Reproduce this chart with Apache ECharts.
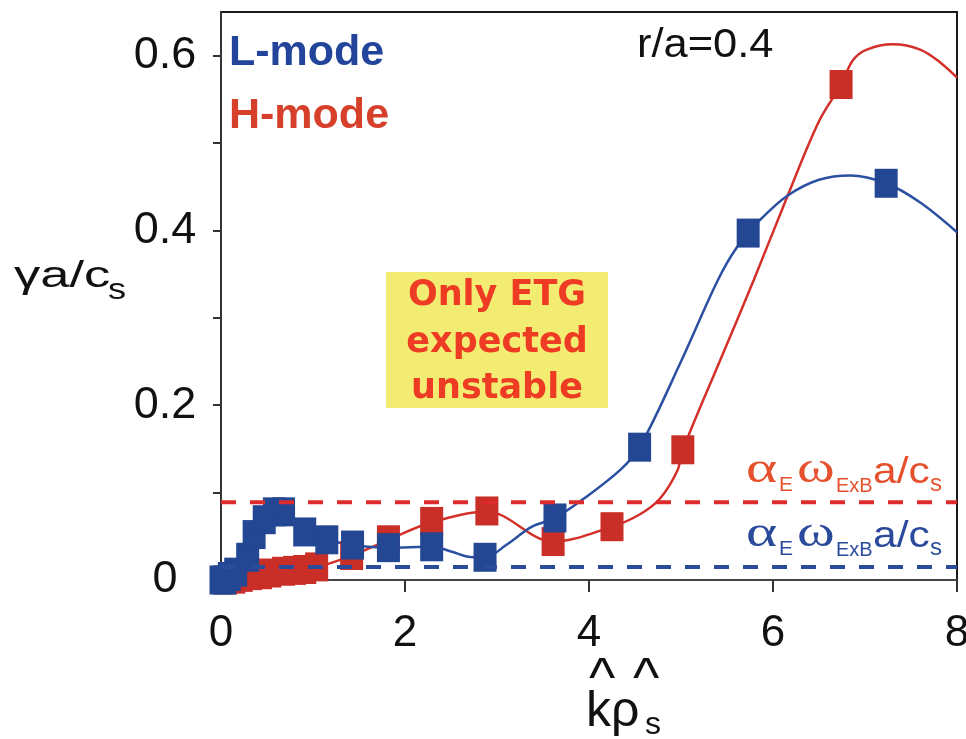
<!DOCTYPE html>
<html>
<head>
<meta charset="utf-8">
<title>Linear growth rate spectrum, r/a = 0.4</title>
<script src="https://cdn.jsdelivr.net/npm/echarts@6/dist/echarts.min.js"></script>
<style>
  html, body { margin: 0; padding: 0; background: #ffffff; }
  #chart { width: 966px; height: 739px; }
</style>
</head>
<body>
<div id="chart"></div>
<script>
// Axis ticks and labels
const kTicks = [0, 2, 4, 6, 8];
const gammaTicks = [0, 0.1, 0.2, 0.3, 0.4, 0.5, 0.6];
const gammaLabels = [0, 0.2, 0.4, 0.6];

// L-mode growth rates (markers)
const lModeK     = [0, 0.04, 0.09, 0.16, 0.29, 0.36, 0.47, 0.58, 0.68, 0.91, 1.15, 1.43, 1.82, 2.29, 2.87, 3.63, 4.55, 5.73, 7.23];
const lModeGamma = [0, 0.0, 0.004, 0.009, 0.026, 0.052, 0.069, 0.078, 0.078, 0.055, 0.046, 0.040, 0.037, 0.038, 0.026, 0.071, 0.152, 0.397, 0.454];

// H-mode growth rates (markers)
const hModeK     = [0.05, 0.14, 0.22, 0.32, 0.43, 0.53, 0.68, 0.8, 0.91, 1.04, 1.42, 1.82, 2.29, 2.89, 3.61, 4.25, 5.02, 6.74];
const hModeGamma = [0, 0.001, 0.003, 0.005, 0.006, 0.008, 0.010, 0.011, 0.012, 0.015, 0.028, 0.046, 0.067, 0.079, 0.044, 0.061, 0.149, 0.567];

// Fitted curves through each spectrum
const lFitK     = [0, 0.3, 0.55, 0.75, 0.91, 1.15, 1.43, 1.82, 2.29, 2.52, 2.67, 2.87, 3.1, 3.38, 3.63, 3.93, 4.34, 4.55, 5.0, 5.4, 5.61, 5.86, 6.16, 6.5, 6.84, 7.23, 7.6, 8.0];
const lFitGamma = [0, 0.03, 0.07, 0.068, 0.055, 0.046, 0.040, 0.037, 0.038, 0.032, 0.027, 0.026, 0.040, 0.061, 0.071, 0.092, 0.126, 0.152, 0.25, 0.343, 0.381, 0.412, 0.44, 0.458, 0.463, 0.454, 0.432, 0.398];
const hFitK     = [0, 0.5, 1.04, 1.42, 1.82, 2.29, 2.89, 3.61, 4.25, 4.55, 4.77, 4.96, 5.02, 5.42, 5.79, 6.16, 6.5, 6.74, 6.87, 7.02, 7.3, 7.6, 7.82, 8.0];
const hFitGamma = [0, 0.007, 0.015, 0.028, 0.046, 0.066, 0.078, 0.044, 0.061, 0.075, 0.093, 0.125, 0.149, 0.25, 0.343, 0.44, 0.525, 0.567, 0.595, 0.607, 0.613, 0.607, 0.592, 0.575];

// E x B shearing rate levels, alpha_E * omega_ExB * a / c_s
const shearK = [0, 8];
const hModeShear = 0.089;
const lModeShear = 0.015;

const BLUE = '#244794';
const BLUE_LINE = '#2b50a2';
const RED = '#c92e27';
const RED_LINE = '#d4302a';
const SANS = "'Liberation Sans', Arial, Helvetica, sans-serif";
const SERIF = "'Liberation Serif', 'Times New Roman', serif";

const zip = (xs, ys) => xs.map((x, i) => [x, ys[i]]);

// Free text placed by its baseline
function label(x, baseline, text, size, color, extra) {
  extra = extra || {};
  return {
    type: 'text',
    x: x,
    y: baseline - 0.31 * size,
    z: 100,
    scaleX: extra.scaleX || 1,
    style: {
      text: text,
      fontSize: size,
      fontFamily: extra.family || SANS,
      fontWeight: extra.weight || 'normal',
      fill: color,
      align: extra.align || 'left',
      verticalAlign: 'middle',
      textAlign: extra.align || 'left',
      textVerticalAlign: 'middle'
    }
  };
}

function shearLabel(baseline, color) {
  return [
    label(746, baseline, 'α', 44, color, { family: SERIF, scaleX: 1.35 }),
    label(779, baseline + 8, 'E', 21, color),
    label(797, baseline, 'ω', 44, color, { family: SERIF, scaleX: 1.3 }),
    label(836, baseline + 9, 'ExB', 20, color),
    label(873, baseline, 'a/c', 36, color, { scaleX: 1.18 }),
    label(930, baseline + 8, 's', 24, color)
  ];
}

const graphics = [
  // Mode legend
  label(229, 66, 'L-mode', 43, '#23449b', { weight: 'bold' }),
  label(229, 129, 'H-mode', 43, '#d63f2a', { weight: 'bold' }),
  label(637, 58, 'r/a=0.4', 41, '#111111', { scaleX: 1.06 }),
  // Highlighted note
  {
    type: 'rect',
    z: 90,
    shape: { x: 386, y: 272, width: 222, height: 136 },
    style: { fill: '#f3ec72' }
  },
  label(497, 307, 'Only ETG', 35, '#ee3b24', { weight: 'bold', align: 'center', family: "'DejaVu Sans', sans-serif" }),
  label(497, 354, 'expected', 35, '#ee3b24', { weight: 'bold', align: 'center', family: "'DejaVu Sans', sans-serif" }),
  label(497, 400, 'unstable', 35, '#ee3b24', { weight: 'bold', align: 'center', family: "'DejaVu Sans', sans-serif" }),
  // Axis titles
  label(14, 288, 'γa/c', 37, '#111111', { scaleX: 1.42 }),
  label(108, 300, 's', 29, '#111111', { scaleX: 1.25 }),
  label(589, 698, '^', 56, '#111111'),
  label(633, 698, '^', 56, '#111111'),
  label(586, 728, 'kρ', 50, '#111111'),
  label(645, 735, 's', 32, '#111111')
].concat(shearLabel(484, '#e4512c'), shearLabel(548, '#2a4a9c'));

const chart = echarts.init(document.getElementById('chart'), null, { renderer: 'canvas' });

chart.setOption({
  animation: false,
  backgroundColor: '#ffffff',
  grid: {
    left: 221, right: 9, top: 12, bottom: 159,
    containLabel: false, outerBoundsMode: 'none',
    show: true, borderColor: '#1a1a1a', borderWidth: 2, backgroundColor: 'transparent'
  },
  xAxis: {
    type: 'value',
    min: 0, max: 8, interval: 2,
    axisLine: { show: true, onZero: false, lineStyle: { color: '#444', width: 2 } },
    axisTick: { show: true, length: 12, customValues: kTicks, lineStyle: { color: '#333', width: 2 } },
    axisLabel: { customValues: kTicks, fontSize: 44, fontFamily: SANS, color: '#111', margin: 32 },
    splitLine: { show: false }
  },
  yAxis: {
    type: 'value',
    min: 0, max: 0.65,
    axisLine: { show: true, onZero: false, lineStyle: { color: '#333', width: 2 } },
    axisTick: { show: true, length: 8, customValues: gammaTicks, lineStyle: { color: '#333', width: 2 } },
    axisLabel: {
      customValues: gammaLabels, fontSize: 45, fontFamily: SANS, color: '#111',
      margin: 56, align: 'center',
      formatter: v => String(v)
    },
    splitLine: { show: false }
  },
  series: [
    {
      name: 'H-mode fit', type: 'line', data: zip(hFitK, hFitGamma),
      smooth: 0.35, showSymbol: false, z: 2,
      lineStyle: { color: RED_LINE, width: 2.5 }
    },
    {
      name: 'L-mode fit', type: 'line', data: zip(lFitK, lFitGamma),
      smooth: 0.35, showSymbol: false, z: 3,
      lineStyle: { color: BLUE_LINE, width: 2.5 }
    },
    {
      name: 'H-mode', type: 'scatter', data: zip(hModeK, hModeGamma),
      symbol: 'rect', symbolSize: [23, 29], z: 4,
      itemStyle: { color: RED, opacity: 1 }
    },
    {
      name: 'L-mode', type: 'scatter', data: zip(lModeK, lModeGamma),
      symbol: 'rect', symbolSize: [23, 29], z: 5,
      itemStyle: { color: BLUE, opacity: 1 }
    },
    {
      name: 'H-mode shear', type: 'line', data: shearK.map(k => [k, hModeShear]),
      showSymbol: false, z: 6,
      lineStyle: { color: '#dd2b2b', width: 4, type: [15, 14] }
    },
    {
      name: 'L-mode shear', type: 'line', data: shearK.map(k => [k, lModeShear]),
      showSymbol: false, z: 6,
      lineStyle: { color: '#2b4b9b', width: 4, type: [15, 14] }
    }
  ],
  graphic: { elements: graphics }
});
</script>
</body>
</html>
